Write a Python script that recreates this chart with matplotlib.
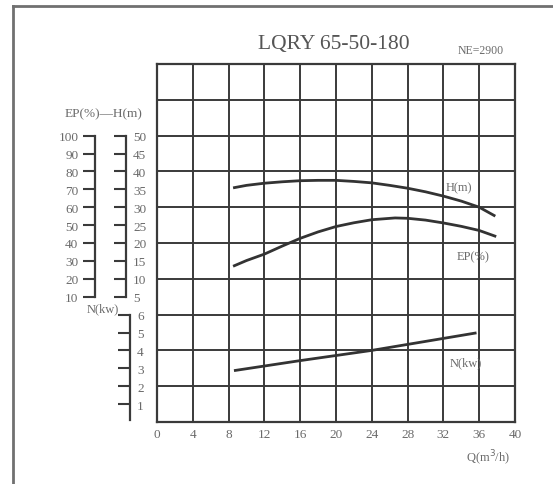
import matplotlib
matplotlib.use("Agg")
import matplotlib.pyplot as plt
from matplotlib.lines import Line2D

# ---- data ----
q_ticks = [0, 4, 8, 12, 16, 20, 24, 28, 32, 36, 40]
ep_ticks = [10, 20, 30, 40, 50, 60, 70, 80, 90, 100]
h_ticks = [5, 10, 15, 20, 25, 30, 35, 40, 45, 50]
n_ticks = [1, 2, 3, 4, 5, 6]

q_h = [8.5, 10, 12, 14, 16, 18, 20, 22, 24, 26, 28, 30, 32, 34, 36, 37.8]
h_vals = [35.4, 36.1, 36.7, 37.1, 37.4, 37.5, 37.5, 37.2, 36.8, 36.1,
          35.3, 34.3, 33.1, 31.7, 30.0, 27.5]

q_ep = [8.5, 10, 12, 14, 16, 18, 20, 22, 24, 26.6, 28, 30, 32, 34, 36, 37.9]
ep_vals = [27, 30.2, 33.8, 38.3, 42.6, 46.2, 49.2, 51.3, 53, 54, 53.8, 52.8,
           51.2, 49.3, 47, 43.6]

q_n = [8.6, 16, 24, 35.7]
n_vals = [2.87, 3.43, 4.0, 4.98]

title = "LQRY 65-50-180"
speed = "NE=2900"

# ---- figure ----
W, H = 553, 485
fig = plt.figure(figsize=(W / 100, H / 100), dpi=100)
fig.patch.set_facecolor("white")

def fx(px):
    return px / W

def fy(py):
    return 1 - py / H

SERIF = ["Liberation Serif", "DejaVu Serif"]
TXT = "#6a6a6a"
LINE = "#3a3a3a"

left, right, top, bot = 157, 515, 65, 423
rect = [fx(left), fy(bot), (right - left) / W, (bot - top) / H]

# grid axes
ax = fig.add_axes(rect)
ax.set_xlim(0, 40)
ax.set_ylim(0, 10)
ax.set_xticks(q_ticks)
ax.set_yticks(range(0, 11))
ax.grid(True, color=LINE, lw=1.4)
ax.tick_params(axis="both", length=0)
ax.tick_params(axis="x", pad=4, labelsize=9.5, labelcolor=TXT)
ax.set_yticklabels([])
for lab in ax.get_xticklabels():
    lab.set_family(SERIF)
for s in ax.spines.values():
    s.set_color(LINE)
    s.set_linewidth(1.6)

def overlay(ylim):
    a = fig.add_axes(rect, sharex=ax)
    a.patch.set_visible(False)
    a.set_ylim(*ylim)
    for s in a.spines.values():
        s.set_visible(False)
    a.tick_params(axis="x", bottom=False, labelbottom=False)
    a.tick_params(axis="y", left=False, labelleft=False)
    return a

# EP axis: grid 0..10 -> EP -60..140
ax_ep = overlay((-60, 140))
ax_ep.spines["left"].set_visible(True)
ax_ep.spines["left"].set_position(("axes", (95 - left) / (right - left)))
ax_ep.spines["left"].set_bounds(10, 100)
ax_ep.spines["left"].set_color(LINE)
ax_ep.spines["left"].set_linewidth(1.6)
ax_ep.set_yticks(ep_ticks)
ax_ep.tick_params(axis="y", left=True, labelleft=True, direction="out",
                  length=9, width=1.5, color=LINE, pad=3,
                  labelsize=9.5, labelcolor=TXT)
for lab in ax_ep.get_yticklabels():
    lab.set_family(SERIF)

# H axis: grid 0..10 -> H -30..70
ax_h = overlay((-30, 70))
ax_h.spines["right"].set_visible(True)
ax_h.spines["right"].set_position(("axes", (126 - left) / (right - left)))
ax_h.spines["right"].set_bounds(5, 50)
ax_h.spines["right"].set_color(LINE)
ax_h.spines["right"].set_linewidth(1.6)
ax_h.set_yticks(h_ticks)
ax_h.tick_params(axis="y", right=True, labelright=True, direction="in",
                 length=9, width=1.5, color=LINE, pad=5,
                 labelsize=9.5, labelcolor=TXT)
for lab in ax_h.get_yticklabels():
    lab.set_family(SERIF)

# N axis: grid 0..10 -> N 0..20
ax_n = overlay((0, 20))
ax_n.spines["right"].set_visible(True)
ax_n.spines["right"].set_position(("axes", (130 - left) / (right - left)))
ax_n.spines["right"].set_bounds(0.1, 6)
ax_n.spines["right"].set_color(LINE)
ax_n.spines["right"].set_linewidth(1.6)
ax_n.set_yticks(n_ticks)
ax_n.tick_params(axis="y", right=True, labelright=True, direction="in",
                 length=9, width=1.5, color=LINE, pad=5,
                 labelsize=9.5, labelcolor=TXT)
for lab in ax_n.get_yticklabels():
    lab.set_family(SERIF)

# curves
ax_h.plot(q_h, h_vals, color="#333333", lw=2.0, solid_capstyle="butt",
          solid_joinstyle="round")
ax_ep.plot(q_ep, ep_vals, color="#333333", lw=2.0, solid_capstyle="butt",
           solid_joinstyle="round")
ax_n.plot(q_n, n_vals, color="#333333", lw=2.0, solid_capstyle="butt",
          solid_joinstyle="round")

# curve labels
fig.text(fx(459), fy(188), "H(m)", ha="center", va="center", fontsize=9,
         color=TXT, family=SERIF)
fig.text(fx(473), fy(257), "EP(%)", ha="center", va="center", fontsize=9,
         color=TXT, family=SERIF)
fig.text(fx(466), fy(363), "N(kw)", ha="center", va="center", fontsize=9,
         color=TXT, family=SERIF)

# axis titles
fig.text(fx(104), fy(114), "EP(%)—H(m)", ha="center", va="center",
         fontsize=9.5, color=TXT, family=SERIF)
fig.text(fx(103), fy(309), "N(kw)", ha="center", va="center", fontsize=9,
         color=TXT, family=SERIF)
fig.text(fx(488), fy(458), "Q(m$^3$/h)", ha="center", va="center", fontsize=9,
         color=TXT, family=SERIF)

# title
fig.text(fx(334), fy(45), title, ha="center", va="center", fontsize=15.5,
         color="#555555", family=SERIF)
fig.text(fx(481), fy(51), speed, ha="center", va="center", fontsize=8.5,
         color=TXT, family=SERIF)

# outer frame (top and left edges)
fig.add_artist(Line2D([fx(13), fx(13)], [fy(7), 0], color="#707070", lw=2.0,
                      transform=fig.transFigure))
fig.add_artist(Line2D([fx(13), 1], [fy(7), fy(7)], color="#707070", lw=2.0,
                      transform=fig.transFigure))

fig.savefig("out.png", dpi=100)
